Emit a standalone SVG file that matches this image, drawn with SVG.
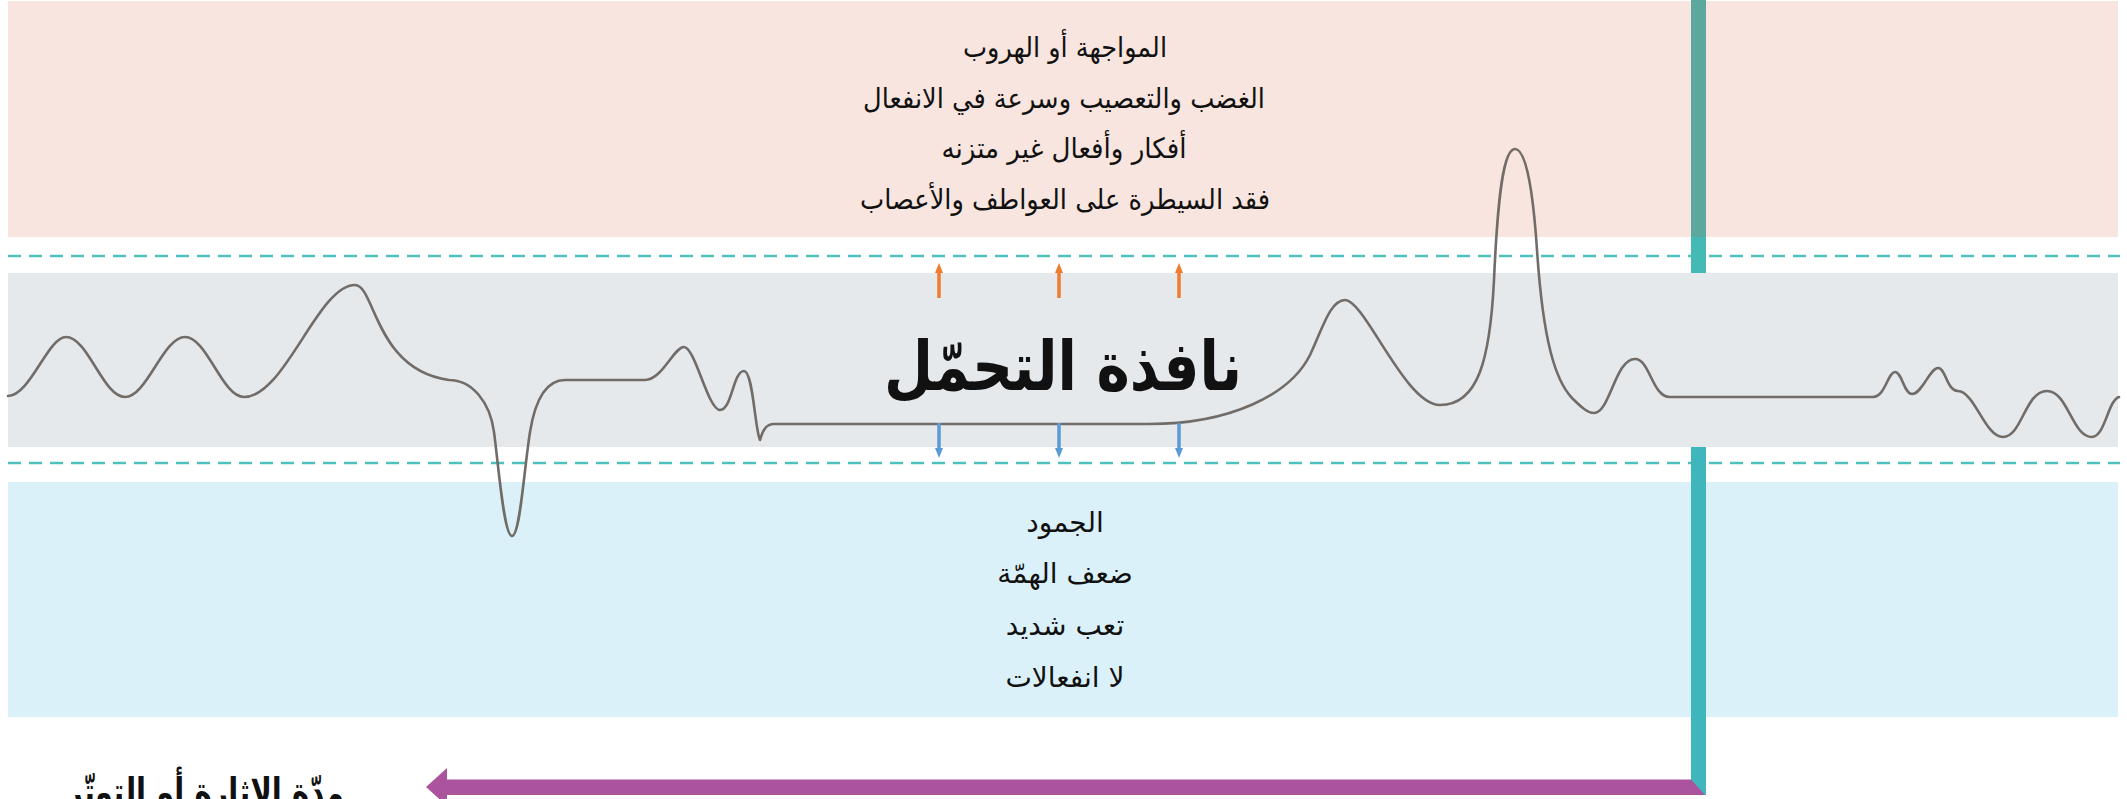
<svg xmlns="http://www.w3.org/2000/svg" width="2127" height="799" viewBox="0 0 2127 799">
  <defs>
    <style>
      .ar { font-family: "DejaVu Sans", sans-serif; fill: #111; direction: rtl; text-anchor: middle; }
      .band-text { font-size: 28px; }
      .title { font-size: 68px; font-weight: bold; }
      .axis-label { font-size: 40px; font-weight: bold; }
      .dash { stroke: #4fc1bd; stroke-width: 2.6; stroke-dasharray: 13 8; fill: none; }
      .up { stroke: #ee7d31; stroke-width: 3.5; fill: none; }
      .down { stroke: #5b9bd5; stroke-width: 3.5; fill: none; }
      .wave { stroke: #716c68; stroke-width: 2.6; fill: none; stroke-linejoin: round; stroke-linecap: round; }
    </style>
    <marker id="headOrange" markerWidth="10" markerHeight="10" refX="5" refY="5" orient="auto" markerUnits="userSpaceOnUse" viewBox="0 0 10 10">
      <path d="M0,1 L10,5 L0,9 Z" fill="#ee7d31"/>
    </marker>
    <marker id="headBlue" markerWidth="10" markerHeight="10" refX="5" refY="5" orient="auto" markerUnits="userSpaceOnUse" viewBox="0 0 10 10">
      <path d="M0,1 L10,5 L0,9 Z" fill="#5b9bd5"/>
    </marker>
  </defs>

  <rect width="2127" height="799" fill="#ffffff"/>

  <g id="zone-high">
    <rect x="8" y="1" width="2110" height="236" fill="#f8e5df"/>
    <text class="ar band-text" x="1065" y="57" textLength="204" lengthAdjust="spacingAndGlyphs">المواجهة أو الهروب</text>
    <text class="ar band-text" x="1064" y="108" textLength="402" lengthAdjust="spacingAndGlyphs">الغضب والتعصيب وسرعة في الانفعال</text>
    <text class="ar band-text" x="1064" y="158" textLength="245" lengthAdjust="spacingAndGlyphs">أفكار وأفعال غير متزنه</text>
    <text class="ar band-text" x="1065" y="209" textLength="410" lengthAdjust="spacingAndGlyphs">فقد السيطرة على العواطف والأعصاب</text>
  </g>

  <g id="zone-window">
    <rect x="8" y="273" width="2110" height="174" fill="#e6e9ec"/>
  </g>

  <g id="zone-low">
    <rect x="8" y="482" width="2110" height="235" fill="#dbf1f9"/>
    <text class="ar band-text" x="1065" y="532">الجمود</text>
    <text class="ar band-text" x="1065" y="583">ضعف الهمّة</text>
    <text class="ar band-text" x="1065" y="635">تعب شديد</text>
    <text class="ar band-text" x="1065" y="687">لا انفعالات</text>
  </g>

  <g id="thresholds">
    <line class="dash" x1="8" y1="256" x2="2120" y2="256"/>
    <line class="dash" x1="8" y1="463" x2="2120" y2="463"/>
  </g>

  <g id="wave">
    <path class="wave" d="M8,396 C30,396 48,337 66,337 C88,337 103,397 125,397 C147,397 163,337 185,337 C207,337 222,397 244,397 C285,397 318,285 355,285 C375,285 375,370 449,380 C472,380 490,402 494,432 C499,470 504,536 512,536 C520,536 524,470 530,432 C536,395 548,380 565,380 L645,380 C662,380 674,347 684,347 C695,347 708,410 720,410 C732,410 733,371 744,371 C753,371 755,430 760,440 C763,430 766,424 774,424 L1149,424 C1230,424 1290,395 1310,355 C1322,330 1330,300 1345,300 C1365,300 1405,405 1440,405 C1478,405 1490,360 1494,280 C1498,190 1504,149 1515,149 C1526,149 1533,190 1537,250 C1543,340 1555,380 1572,398 C1582,408 1588,413 1594,413 C1610,413 1615,359 1635,359 C1650,359 1652,397 1670,397 L1873,397 C1885,397 1888,372 1895,372 C1902,372 1904,394 1912,394 C1922,394 1930,368 1938,368 C1946,368 1946,390 1958,391 C1975,392 1985,437 2003,437 C2022,437 2025,391 2047,391 C2068,391 2072,437 2092,437 C2105,437 2108,400 2119,397"/>
  </g>

  <g id="title">
    <text class="ar title" x="1063" y="390" textLength="358" lengthAdjust="spacingAndGlyphs">نافذة التحمّل</text>
  </g>

  <g id="time-axis">
    <rect x="1691" y="0" width="15" height="237" fill="#5da89e"/>
    <rect x="1691" y="237" width="15" height="36" fill="#45b9b6"/>
    <rect x="1691" y="447" width="15" height="348" fill="#3fb6bb"/>
    <path d="M426,787 L447,768 L447,779.5 L1691,779.5 L1705,795 L447,795 L447,806 Z" fill="#ab539c"/>
    <text class="ar axis-label" x="205" y="806" textLength="278" lengthAdjust="spacingAndGlyphs">مدّة الاثارة أو التوتّر</text>
  </g>

  <g id="connectors">
    <line class="up" x1="939" y1="298" x2="939" y2="268" marker-end="url(#headOrange)"/>
    <line class="up" x1="1059" y1="298" x2="1059" y2="268" marker-end="url(#headOrange)"/>
    <line class="up" x1="1179" y1="298" x2="1179" y2="268" marker-end="url(#headOrange)"/>
    <line class="down" x1="939" y1="423" x2="939" y2="453" marker-end="url(#headBlue)"/>
    <line class="down" x1="1059" y1="423" x2="1059" y2="453" marker-end="url(#headBlue)"/>
    <line class="down" x1="1179" y1="423" x2="1179" y2="453" marker-end="url(#headBlue)"/>
  </g>
</svg>
